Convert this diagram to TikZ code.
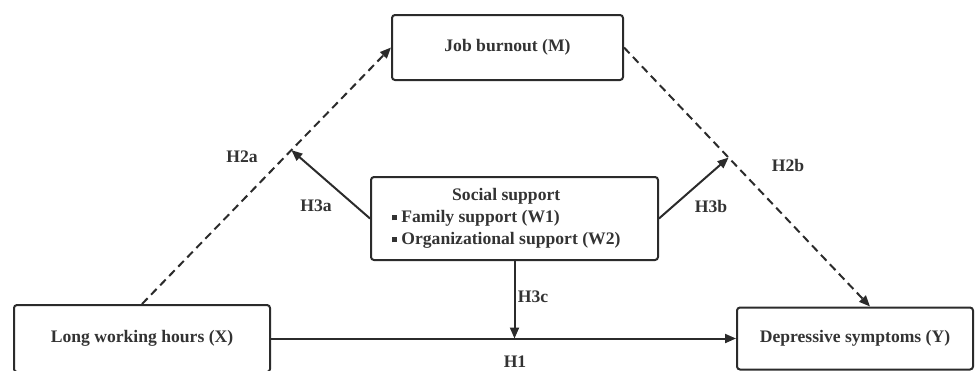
\documentclass[tikz,border=0pt]{standalone}
\usepackage{fontspec}
\setmainfont{Liberation Serif}
\usetikzlibrary{arrows.meta}

\definecolor{linegray}{HTML}{2B2B2B}
\definecolor{textgray}{HTML}{333333}
\newcommand{\sqbullet}{\rule[2.5pt]{5pt}{5pt}}

\tikzset{
    box/.style={draw=linegray, line width=2pt, rounded corners=3pt, inner sep=0pt,
        text=textgray, font=\fontsize{17.6}{22}\selectfont\bfseries},
    arr/.style={-{Triangle[length=11pt, width=9pt]}, draw=linegray, line width=2pt},
    dasharr/.style={arr, dash pattern=on 8pt off 5pt},
    hyp/.style={text=textgray, font=\fontsize{17.6}{20}\selectfont\bfseries}
}

\begin{document}
\begin{tikzpicture}[x=1pt, y=-1pt]
    \useasboundingbox (0, 0) rectangle (975, 370);

    % ボックス
    \node[box, minimum width=231pt, minimum height=65pt] (M) at (507.5, 47.5) {Job burnout (M)};
    \node[box, minimum width=256pt, minimum height=67pt] (X) at (142, 338.5) {Long working hours (X)};
    \node[box, minimum width=236pt, minimum height=62pt] (Y) at (855, 338.5) {Depressive symptoms (Y)};
    \node[box, minimum height=83pt, inner xsep=21pt] (W) at (514.5, 218.5)
        {\makebox[245pt][l]{\begin{tabular}{@{}l@{}}
            \multicolumn{1}{@{}c@{}}{Social support}\\
            \sqbullet\ Family support (W1)\\
            \sqbullet\ Organizational support (W2)
        \end{tabular}}};

    % 媒介の矢印
    \draw[dasharr] (X.north) -- coordinate[pos=0.6] (h2a) (M.west);
    \draw[dasharr] (M.east) -- coordinate[pos=0.425] (h2b) ([xshift=15pt]Y.north);

    % 直接効果
    \draw[arr] (X.east) -- (Y.west);

    % 調整の矢印
    \draw[arr] (W.west) -- (h2a);
    \draw[arr] (W.east) -- (h2b);
    \draw[arr] (W.south) -- (W.south |- X.east);

    % ラベル
    \node[hyp] (H2a) at (242, 157) {H2a};
    \node[hyp] (H2b) at (788, 165) {H2b};
    \node[hyp] (H3a) at (316, 206) {H3a};
    \node[hyp] (H3b) at (711, 206) {H3b};
    \node[hyp] (H3c) at (533, 297) {H3c};
    \node[hyp] (H1) at (515, 362) {H1};

\end{tikzpicture}
\end{document}
